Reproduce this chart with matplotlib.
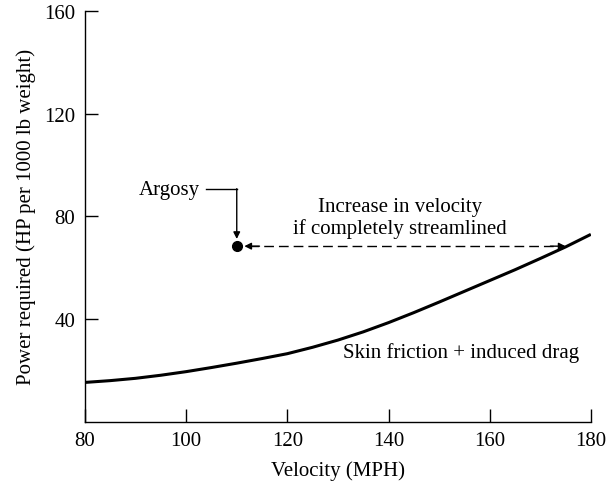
import matplotlib.pyplot as plt

# Power required curve (skin friction + induced drag)
velocity = [80, 85, 90, 95, 100, 105, 110, 115, 120, 125, 130, 135, 140,
            145, 150, 155, 160, 165, 170, 175, 180]
power = [15.3, 16.0, 16.9, 18.1, 19.5, 21.1, 22.8, 24.6, 26.5, 29.0, 31.8,
         35.0, 38.6, 42.5, 46.6, 50.8, 55.0, 59.2, 63.6, 68.1, 73.0]

# Argosy point and streamlined speed
argosy_v = 110
argosy_p = 68.4
streamlined_v = 175

x_ticks = [80, 100, 120, 140, 160, 180]
y_ticks = [40, 80, 120, 160]

plt.rcParams['font.family'] = ['Liberation Serif', 'DejaVu Serif']
plt.rcParams['font.size'] = 15

fig = plt.figure(figsize=(6.08, 4.85), dpi=100)
ax = fig.add_axes([0.1398, 0.1285, 0.832, 0.8465])

ax.plot(velocity, power, color='black', linewidth=2.2, solid_capstyle='butt')
ax.plot([argosy_v], [argosy_p], 'o', color='black', markersize=7)

# Argosy label with elbow arrow
ax.text(102.7, 90.6, "Argosy", ha='right', va='center')
ax.plot([103.9, argosy_v], [90.6, 90.6], color='black', linewidth=1)
ax.annotate("", xy=(argosy_v, 71.2), xytext=(argosy_v, 90.8),
            arrowprops=dict(arrowstyle='-|>', color='black', lw=1,
                            mutation_scale=10, shrinkA=0, shrinkB=0))

# dashed double arrow
ax.plot([112.5, streamlined_v - 1.5], [argosy_p, argosy_p], color='black',
        linewidth=1, linestyle=(0, (7, 3.6)))
ax.annotate("", xy=(111.5, argosy_p), xytext=(114.5, argosy_p),
            arrowprops=dict(arrowstyle='-|>', color='black', lw=1,
                            mutation_scale=10, shrinkA=0, shrinkB=0))
ax.annotate("", xy=(streamlined_v, argosy_p), xytext=(streamlined_v - 3, argosy_p),
            arrowprops=dict(arrowstyle='-|>', color='black', lw=1,
                            mutation_scale=10, shrinkA=0, shrinkB=0))

ax.text(142.3, 79.6, "Increase in velocity\nif completely streamlined",
        ha='center', va='center', linespacing=1.1)
ax.text(154.3, 27.0, "Skin friction + induced drag", ha='center', va='center')

ax.set_xlim(80, 180)
ax.set_ylim(0, 160)
ax.set_xticks(x_ticks)
ax.set_yticks(y_ticks)
ax.tick_params(direction='in', length=9.5, width=1, pad=7)
ax.spines['top'].set_visible(False)
ax.spines['right'].set_visible(False)
for s in ['left', 'bottom']:
    ax.spines[s].set_linewidth(1)

ax.set_xlabel("Velocity (MPH)", labelpad=7)
ax.set_ylabel("Power required (HP per 1000 lb weight)", labelpad=6)

fig.savefig("out.png", dpi=100)
